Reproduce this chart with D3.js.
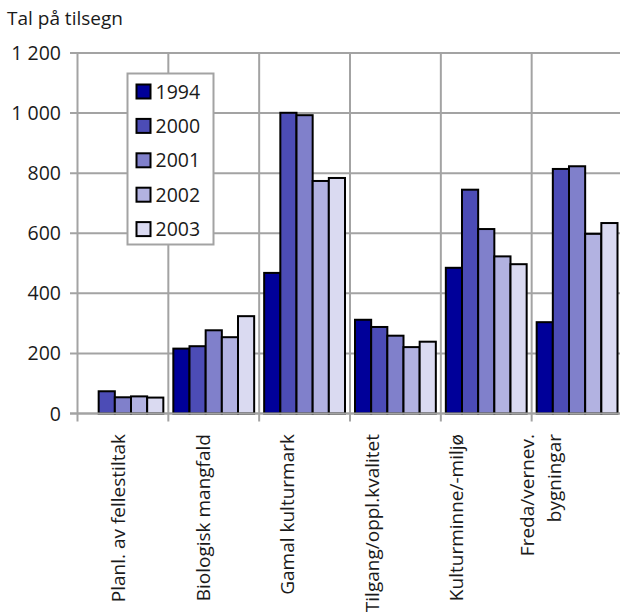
<!DOCTYPE html>
<html>
<head>
<meta charset="utf-8">
<script src="https://cdn.jsdelivr.net/npm/d3@7"></script>
<style>
  body { margin: 0; background: #fff; }
  text { font-family: "Open Sans", sans-serif; fill: #1a1a1a; }
</style>
</head>
<body>
<div id="chart"></div>
<script>
// data
var categories = [
    ['Planl. av fellestiltak'],
    ['Biologisk mangfald'],
    ['Gamal kulturmark'],
    ['Tilgang/oppl.kvalitet'],
    ['Kulturminne/-miljø'],
    ['Freda/vernev.', 'bygningar']
];
var years = ['1994', '2000', '2001', '2002', '2003'];
var v1994 = [0, 216, 468, 312, 485, 304];
var v2000 = [74, 224, 1001, 288, 745, 814];
var v2001 = [54, 277, 993, 259, 614, 823];
var v2002 = [57, 254, 774, 221, 523, 598];
var v2003 = [53, 324, 784, 239, 497, 634];
var yTicks = [0, 200, 400, 600, 800, 1000, 1200];
var colors = ['#000099', '#4c4cb6', '#8080cb', '#b2b2e1', '#dadaf1'];

var series = [v1994, v2000, v2001, v2002, v2003];

var width = 620,
    height = 616;

var svg = d3
    .select('#chart')
    .append('svg')
    .attr('width', width)
    .attr('height', height);

var catNames = categories.map(function (c) {
    return c.join(' ');
});

var x = d3.scaleBand().domain(catNames).range([77.5, 622.5]);
var x1 = d3
    .scaleBand()
    .domain(years)
    .range([5, x.bandwidth() - 5]);
var y = d3.scaleLinear().domain([0, 1200]).range([413.5, 53]);

// labels sit a little tighter than the bands in the original
var xLabel = d3.scaleBand().domain(catNames).range([76, 583]);

var grid = '#a3a3a3';

// horizontal gridlines
svg.append('g')
    .selectAll('line')
    .data(yTicks)
    .enter()
    .append('line')
    .attr('x1', 70)
    .attr('x2', width)
    .attr('y1', function (d) { return y(d); })
    .attr('y2', function (d) { return y(d); })
    .attr('stroke', grid)
    .attr('stroke-width', 2);

// vertical gridlines at category boundaries
var bounds = catNames.map(function (c) { return x(c); }).concat([x.range()[1]]);
svg.append('g')
    .selectAll('line')
    .data(bounds)
    .enter()
    .append('line')
    .attr('x1', function (d) { return d; })
    .attr('x2', function (d) { return d; })
    .attr('y1', y(1200))
    .attr('y2', y(0) + 8)
    .attr('stroke', grid)
    .attr('stroke-width', 2);

// y tick labels
svg.append('g')
    .selectAll('text')
    .data(yTicks)
    .enter()
    .append('text')
    .attr('x', 61)
    .attr('y', function (d) { return y(d); })
    .attr('dy', '0.36em')
    .attr('text-anchor', 'end')
    .style('font-size', '19.5px')
    .text(function (d) {
        return d3.format(',')(d).replace(',', ' ');
    });

svg.append('text')
    .attr('x', 7)
    .attr('y', 25)
    .style('font-size', '19px')
    .text('Tal på tilsegn');

// bars
var groups = svg
    .append('g')
    .selectAll('g')
    .data(catNames)
    .enter()
    .append('g')
    .attr('transform', function (d) { return 'translate(' + x(d) + ',0)'; });

groups
    .selectAll('rect')
    .data(function (d, i) {
        return years.map(function (yr, j) {
            return { year: yr, value: series[j][i], color: colors[j] };
        });
    })
    .enter()
    .filter(function (d) { return d.value > 0; })
    .append('rect')
    .attr('x', function (d) { return x1(d.year); })
    .attr('width', x1.bandwidth())
    .attr('y', function (d) { return y(d.value); })
    .attr('height', function (d) { return y(0) - y(d.value); })
    .attr('fill', function (d) { return d.color; })
    .attr('stroke', '#000')
    .attr('stroke-width', 2);

// baseline again on top of bars
svg.append('line')
    .attr('x1', 70)
    .attr('x2', width)
    .attr('y1', y(0))
    .attr('y2', y(0))
    .attr('stroke', grid)
    .attr('stroke-width', 2);

// category labels, rotated
var lab = svg
    .append('g')
    .selectAll('text')
    .data(categories)
    .enter()
    .append('text')
    .attr('transform', function (d, i) {
        var cx = xLabel(catNames[i]) + xLabel.bandwidth() / 2;
        return 'translate(' + cx + ',434) rotate(-90)';
    })
    .attr('text-anchor', 'end')
    .style('font-size', '19px');

lab.each(function (d) {
    var t = d3.select(this);
    var n = d.length;
    d.forEach(function (line, k) {
        t.append('tspan')
            .attr('x', 0)
            .attr('y', 0)
            .attr('dy', (0.36 + (k - (n - 1) / 2) * 1.42) + 'em')
            .text(line);
    });
});

// legend
var legend = svg.append('g').attr('transform', 'translate(127.5,73.5)');
legend
    .append('rect')
    .attr('width', 86)
    .attr('height', 171)
    .attr('fill', '#fff')
    .attr('stroke', grid)
    .attr('stroke-width', 2);

var items = legend
    .selectAll('g')
    .data(years)
    .enter()
    .append('g')
    .attr('transform', function (d, i) {
        return 'translate(0,' + (18 + i * 34.4) + ')';
    });

items
    .append('rect')
    .attr('x', 9)
    .attr('y', -7)
    .attr('width', 14)
    .attr('height', 14)
    .attr('fill', function (d, i) { return colors[i]; })
    .attr('stroke', '#000')
    .attr('stroke-width', 2);

items
    .append('text')
    .attr('x', 28)
    .attr('dy', '0.36em')
    .style('font-size', '19.5px')
    .text(function (d) { return d; });
</script>
</body>
</html>
